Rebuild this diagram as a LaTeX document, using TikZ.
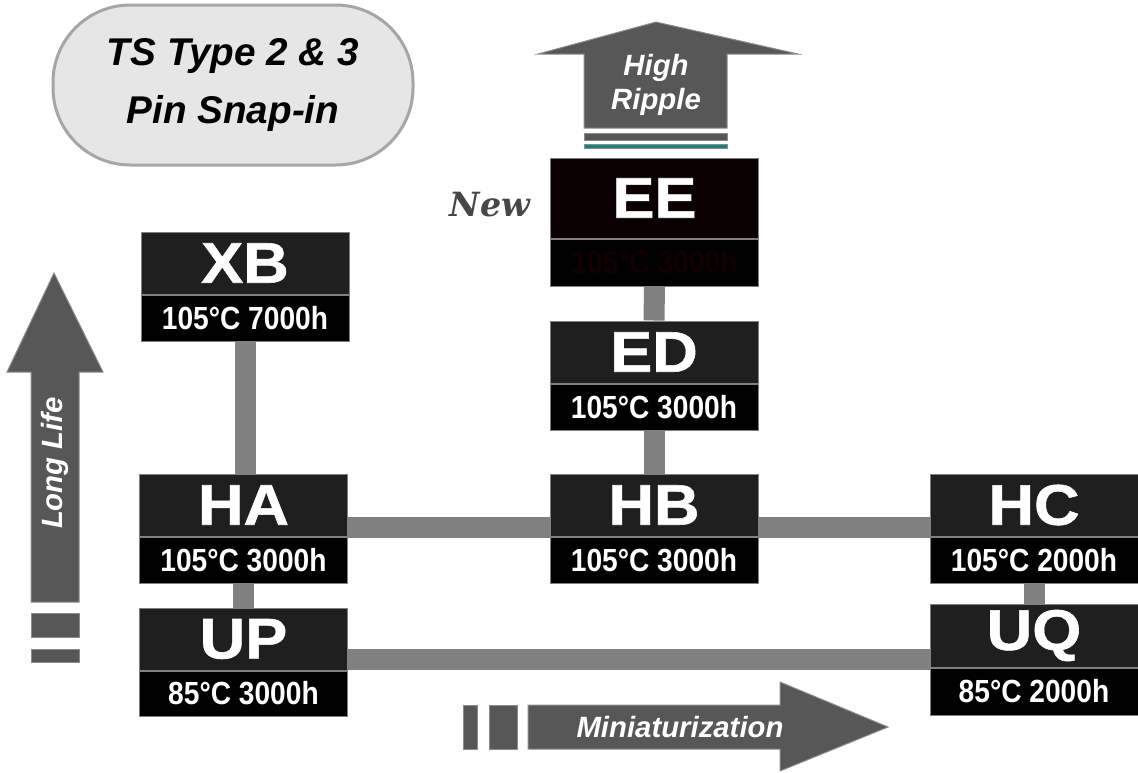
\documentclass[tikz,border=0pt]{standalone}
\usepackage{fontspec}
\setmainfont{Liberation Sans}
\newfontfamily\narrowfont[FakeStretch=0.88]{Liberation Sans}
\newfontfamily\widefont[FakeStretch=1.1,FakeBold=1]{Liberation Sans}
\newfontfamily\slabfont{DejaVu Serif}
\usetikzlibrary{calc,backgrounds}
\definecolor{titlefill}{HTML}{1F1F1F}
\definecolor{eefill}{HTML}{0A0000}
\definecolor{eetext}{HTML}{120000}
\definecolor{conncol}{HTML}{808080}
\definecolor{arrowfill}{HTML}{575757}
\definecolor{arrowedge}{HTML}{8C8C8C}
\definecolor{pillfill}{HTML}{E6E6E6}
\definecolor{pilledge}{HTML}{A6A6A6}
\definecolor{stripeteal}{HTML}{1B7F7A}
\definecolor{newcol}{HTML}{474747}
\begin{document}
\begin{tikzpicture}[x=0.75pt,y=-0.75pt,
  titlebox/.style={draw=conncol, line width=0.75pt, fill=titlefill, text=white,
    minimum width=156pt, minimum height=46.5pt, inner sep=0pt,
    font=\widefont\bfseries\fontsize{43}{43}\selectfont},
  subbox/.style={draw=conncol, line width=0.75pt, fill=black, text=white,
    minimum width=156pt, minimum height=34.5pt, inner sep=0pt, anchor=north,
    font=\narrowfont\bfseries\fontsize{24}{24}\selectfont},
  conn/.style={draw=conncol, line width=15.75pt},
  arrowshape/.style={fill=arrowfill, draw=arrowedge, line width=0.75pt},
  lbl/.style={text=white, align=center, font=\bfseries\itshape\fontsize{22}{26}\selectfont}
]
\useasboundingbox (0,0) rectangle (1138,772);

% title pill
\node[draw=pilledge, line width=2.25pt, fill=pillfill, rounded corners=58pt,
  minimum width=270pt, minimum height=120pt, align=center,
  font=\bfseries\itshape\fontsize{29}{43}\selectfont] (pill) at (233,85)
  {TS Type 2 \& 3\\Pin Snap-in};

% High Ripple arrow
\draw[arrowshape] (584,128) -- (584,54) -- (538,54) -- (656,22) -- (798,54) -- (727,54) -- (727,128) -- cycle;
\draw[arrowshape] (584,133) rectangle (727,140);
\draw[fill=stripeteal, draw=arrowedge, line width=0.75pt] (584,144) rectangle (727,148);
\node[lbl] (hr) at (656,85) {High\\Ripple};

% Long Life arrow
\draw[arrowshape] (31,602) -- (31,372) -- (7,372) -- (54,273) -- (103,372) -- (79,372) -- (79,602) -- cycle;
\draw[arrowshape] (31,613) rectangle (79,637);
\draw[arrowshape] (31,649) rectangle (79,662);
\node[lbl, rotate=90] (ll) at (55,463) {Long Life};

% Miniaturization arrow
\draw[arrowshape] (528,705) -- (780,705) -- (780,682) -- (888,727) -- (780,771) -- (780,749) -- (528,749) -- cycle;
\draw[arrowshape] (463,705) rectangle (477,749);
\draw[arrowshape] (489,705) rectangle (517,749);
\node[lbl] (mi) at (680,727) {Miniaturization};

% boxes
\node[titlebox] (XB) at (245,263) {XB};
\node[subbox] (XBs) at (XB.south) {105°C 7000h};

\node[titlebox] (HA) at (243.5,505) {HA};
\node[subbox] (HAs) at (HA.south) {105°C 3000h};

\node[titlebox] (UP) at (243.5,639) {UP};
\node[subbox, minimum height=33.75pt] (UPs) at (UP.south) {85°C 3000h};

\node[titlebox, fill=eefill, minimum height=60pt] (EE) at (654.5,198) {EE};
\node[subbox, text=eetext, minimum height=35.25pt] (EEs) at (EE.south) {105°C 3000h};

\node[titlebox] (ED) at (654,352) {ED};
\node[subbox] (EDs) at (ED.south) {105°C 3000h};

\node[titlebox] (HB) at (654,505) {HB};
\node[subbox] (HBs) at (HB.south) {105°C 3000h};

\node[titlebox] (HC) at (1034,505) {HC};
\node[subbox] (HCs) at (HC.south) {105°C 2000h};

\node[titlebox, minimum height=47.25pt] (UQ) at (1034,635.5) {UQ};
\node[subbox, minimum height=35.25pt] (UQs) at (UQ.south) {85°C 2000h};

\node[text=newcol, font=\slabfont\bfseries\itshape\fontsize{25}{25}\selectfont] (new) at (490,205) {New};

% connectors
\begin{scope}[on background layer]
\draw[conn] (XBs.south) -- (XBs.south |- HA.north);
\draw[conn] (HAs.south) -- (UP.north);
\draw[conn] (EEs.south) -- (ED.north);
\draw[conn] (EDs.south) -- (HB.north);
\draw[conn] (HCs.south) -- (UQ.north);
\coordinate (h1) at ($(HA.south east)+(0,-9)$);
\draw[conn] (h1) -- (h1 -| HB.west);
\coordinate (h2) at ($(HB.south east)+(0,-9)$);
\draw[conn] (h2) -- (h2 -| HC.west);
\coordinate (h3) at ($(UP.south east)+(0,-11)$);
\draw[conn] (h3) -- (h3 -| UQ.west);
\end{scope}
\end{tikzpicture}
\end{document}
